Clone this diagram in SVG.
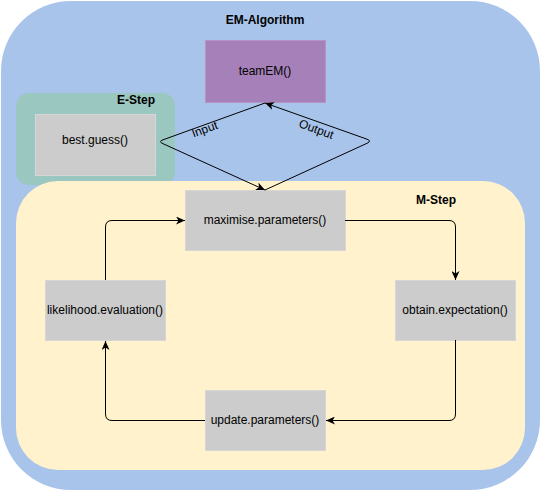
<svg xmlns="http://www.w3.org/2000/svg" width="541" height="491" viewBox="0 0 541 491">
<style>
text{font-family:"Liberation Sans",Arial,sans-serif;font-size:12px;fill:#000;text-anchor:middle}
.b{font-weight:bold}
.box{fill:#CCCCCC;stroke:#D6D6D6;stroke-width:1}
.e{fill:none;stroke:#000;stroke-width:1}
</style>
<defs>
<marker id="a" markerUnits="userSpaceOnUse" markerWidth="10" markerHeight="8" viewBox="0 0 10 8" refX="9" refY="4" orient="auto">
<path d="M0,0 L9,4 L0,8 L2.5,4 Z" fill="#000"/>
</marker>
</defs>
<g id="em-algorithm">
<rect x="1" y="1" width="539" height="489" rx="70" ry="70" fill="#A9C4EB"/>
<text class="b" x="265" y="24">EM-Algorithm</text>
</g>
<g id="teamEM">
<rect x="205.5" y="40.5" width="120" height="62" fill="#A680B8" stroke="#B593C5"/>
<text x="265" y="75">teamEM()</text>
</g>
<g id="e-step">
<rect x="16" y="93" width="159" height="92" rx="13" ry="13" fill="#9AC7BF"/>
<text class="b" x="136" y="104">E-Step</text>
</g>
<g id="best-guess">
<rect class="box" x="35.5" y="114.5" width="120" height="61"/>
<text x="95" y="144">best.guess()</text>
</g>
<g id="m-step">
<rect x="16" y="181" width="509" height="289" rx="42" ry="42" fill="#FFF2CC"/>
<text class="b" x="436" y="204">M-Step</text>
</g>
<g id="maximise-parameters">
<rect class="box" x="185.5" y="190.5" width="160" height="60"/>
<text x="265" y="224">maximise.parameters()</text>
</g>
<g id="likelihood-evaluation">
<rect class="box" x="45.5" y="280.5" width="120" height="60"/>
<text x="105" y="314">likelihood.evaluation()</text>
</g>
<g id="obtain-expectation">
<rect class="box" x="395.5" y="280.5" width="120" height="60"/>
<text x="455" y="314">obtain.expectation()</text>
</g>
<g id="update-parameters">
<rect class="box" x="205.5" y="390.5" width="120" height="60"/>
<text x="265" y="424">update.parameters()</text>
</g>
<g id="connectors">
<path class="e" d="M345,220.5 H449 Q455.5,220.5 455.5,227 V280" marker-end="url(#a)"/>
<path class="e" d="M455.5,340 V414 Q455.5,420.5 449,420.5 H326" marker-end="url(#a)"/>
<path class="e" d="M205,420.5 H112 Q105.5,420.5 105.5,414 V341" marker-end="url(#a)"/>
<path class="e" d="M105.5,280 V227 Q105.5,220.5 112,220.5 H185" marker-end="url(#a)"/>
<path class="e" d="M265,103 L163,139.8 Q158,141.5 163,143.7 L265,190" marker-end="url(#a)"/>
<path class="e" d="M265,190 L367,143.3 Q372,141 367,139.2 L265,103" marker-end="url(#a)"/>
<text transform="translate(206,133) rotate(-20)">Input</text>
<text transform="translate(315,133) rotate(20)">Output</text>
</g>
</svg>
